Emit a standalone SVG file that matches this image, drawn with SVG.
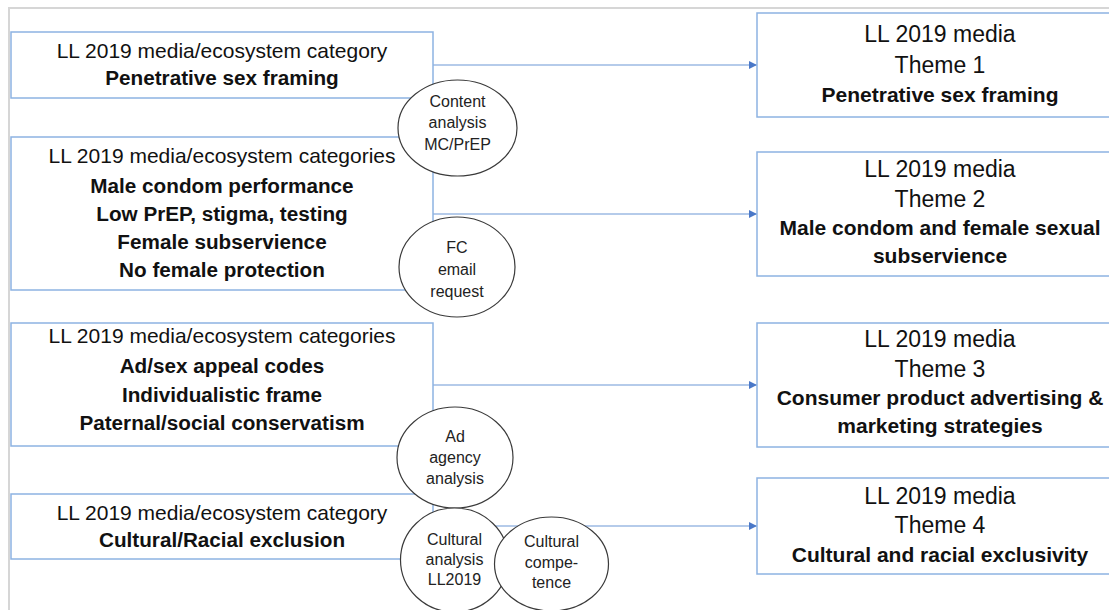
<svg xmlns="http://www.w3.org/2000/svg" width="1109" height="610" viewBox="0 0 1109 610">
<defs>
<style>
.frame{fill:none;stroke:#d6d6d6;stroke-width:2}
.box{fill:#fff;stroke:#8db3e2;stroke-width:1.5}
.circ{fill:#fff;stroke:#3a3a3a;stroke-width:1.2}
.conn{fill:none;stroke:#6d98d6;stroke-width:1.2}
text{font-family:"Liberation Sans",Arial,sans-serif;fill:#111;text-anchor:middle}
.l{font-size:21px}
.r{font-size:23px}
.rb{font-size:21px;font-weight:bold}
.lb{font-size:20.7px;font-weight:bold}
.c{font-size:16px;fill:#222}
</style>
<marker id="arr" viewBox="0 0 10 10" refX="10" refY="5" markerWidth="8" markerHeight="8" markerUnits="userSpaceOnUse" orient="auto">
<path d="M0,0 L10,5 L0,10 z" fill="#4a78c8"/>
</marker>
</defs>
<rect width="1109" height="610" fill="#fff"/>
<rect class="frame" x="9" y="8" width="1112" height="615"/>

<g id="connectors">
<line class="conn" x1="433" y1="65" x2="757" y2="65" marker-end="url(#arr)"/>
<line class="conn" x1="433" y1="214" x2="757" y2="214" marker-end="url(#arr)"/>
<line class="conn" x1="433" y1="385" x2="757" y2="385" marker-end="url(#arr)"/>
<line class="conn" x1="433" y1="526" x2="757" y2="526" marker-end="url(#arr)"/>
</g>

<g id="cat1">
<rect class="box" x="11" y="32" width="422" height="66"/>
<text class="l" x="222" y="58">LL 2019 media/ecosystem category</text>
<text class="lb" x="222" y="85">Penetrative sex framing</text>
</g>
<g id="cat2">
<rect class="box" x="11" y="137" width="422" height="153"/>
<text class="l" x="222" y="163">LL 2019 media/ecosystem categories</text>
<text class="lb" x="222" y="193">Male condom performance</text>
<text class="lb" x="222" y="221">Low PrEP, stigma, testing</text>
<text class="lb" x="222" y="249">Female subservience</text>
<text class="lb" x="222" y="277">No female protection</text>
</g>
<g id="cat3">
<rect class="box" x="11" y="323" width="422" height="123"/>
<text class="l" x="222" y="343">LL 2019 media/ecosystem categories</text>
<text class="lb" x="222" y="373">Ad/sex appeal codes</text>
<text class="lb" x="222" y="402">Individualistic frame</text>
<text class="lb" x="222" y="430">Paternal/social conservatism</text>
</g>
<g id="cat4">
<rect class="box" x="11" y="494" width="422" height="65"/>
<text class="l" x="222" y="520">LL 2019 media/ecosystem category</text>
<text class="lb" x="222" y="547">Cultural/Racial exclusion</text>
</g>

<g id="theme1">
<rect class="box" x="757" y="13" width="366" height="104"/>
<text class="r" x="940" y="42">LL 2019 media</text>
<text class="r" x="940" y="73">Theme 1</text>
<text class="rb" x="940" y="102">Penetrative sex framing</text>
</g>
<g id="theme2">
<rect class="box" x="757" y="152" width="366" height="124"/>
<text class="r" x="940" y="177">LL 2019 media</text>
<text class="r" x="940" y="207">Theme 2</text>
<text class="rb" x="940" y="235">Male condom and female sexual</text>
<text class="rb" x="940" y="263">subservience</text>
</g>
<g id="theme3">
<rect class="box" x="757" y="323" width="366" height="124"/>
<text class="r" x="940" y="347">LL 2019 media</text>
<text class="r" x="940" y="377">Theme 3</text>
<text class="rb" x="940" y="405">Consumer product advertising &amp;</text>
<text class="rb" x="940" y="433">marketing strategies</text>
</g>
<g id="theme4">
<rect class="box" x="757" y="478" width="366" height="96"/>
<text class="r" x="940" y="504">LL 2019 media</text>
<text class="r" x="940" y="533">Theme 4</text>
<text class="rb" x="940" y="562">Cultural and racial exclusivity</text>
</g>

<g id="method1">
<ellipse class="circ" cx="457.5" cy="128" rx="59.5" ry="48"/>
<text class="c" x="457.5" y="107">Content</text>
<text class="c" x="457.5" y="128">analysis</text>
<text class="c" x="457.5" y="150">MC/PrEP</text>
</g>
<g id="method2">
<ellipse class="circ" cx="457" cy="267" rx="58" ry="50"/>
<text class="c" x="457" y="253">FC</text>
<text class="c" x="457" y="275">email</text>
<text class="c" x="457" y="297">request</text>
</g>
<g id="method3">
<ellipse class="circ" cx="455" cy="457.5" rx="58" ry="50.5"/>
<text class="c" x="455" y="442">Ad</text>
<text class="c" x="455" y="463">agency</text>
<text class="c" x="455" y="484">analysis</text>
</g>
<g id="method4">
<ellipse class="circ" cx="454.5" cy="560" rx="54" ry="52"/>
<text class="c" x="454.5" y="545">Cultural</text>
<text class="c" x="454.5" y="565">analysis</text>
<text class="c" x="454.5" y="585">LL2019</text>
</g>
<g id="method5">
<ellipse class="circ" cx="551.5" cy="564" rx="57" ry="47"/>
<text class="c" x="551.5" y="547">Cultural</text>
<text class="c" x="551.5" y="568">compe-</text>
<text class="c" x="551.5" y="588">tence</text>
</g>
</svg>
